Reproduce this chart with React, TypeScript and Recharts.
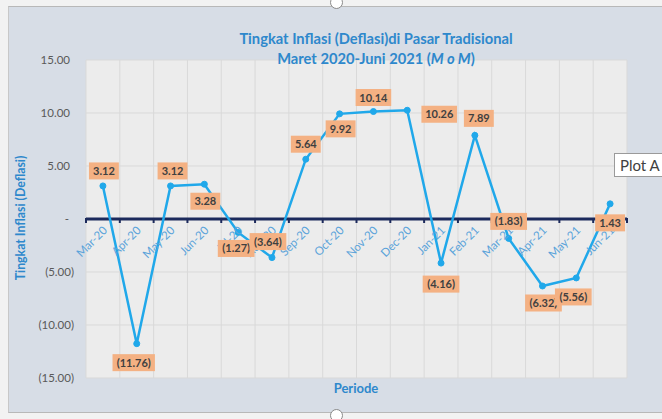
import { LineChart, Line, XAxis, YAxis, CartesianGrid, ReferenceLine, LabelList } from 'recharts'

const MONTHS = [
  'Mar-20', 'Apr-20', 'May-20', 'Jun-20', 'Jul-20', 'Aug-20', 'Sep-20', 'Oct-20',
  'Nov-20', 'Dec-20', 'Jan-21', 'Feb-21', 'Mar-21', 'Apr-21', 'May-21', 'Jun-21',
]
const INFLATION = [3.12, -11.76, 3.12, 3.28, -1.27, -3.64, 5.64, 9.92, 10.14, 10.26, -4.16, 7.89, -1.83, -6.32, -5.56, 1.43]
const Y_TICKS = [-15, -10, -5, 0, 5, 10, 15]

// where Excel put each data label, relative to its point (px)
const LABEL_NUDGE: [number, number][] = [
  [1, -15], [-3, 19], [2, -15], [1, 17], [-2, 16], [-4, -16], [0, -15], [1, 15],
  [0, -14], [32, 4], [0, 21], [4, -17], [0, -17], [1, 17], [-3, 19], [0, 19],
]

const W = 662
const H = 419
const MARGIN = { top: 60, right: 35, bottom: 41, left: 0 }
const Y_AXIS_W = 86
const PLOT_W = W - MARGIN.right - Y_AXIS_W
const BAND = PLOT_W / MONTHS.length

const FONT = 'Lato, "Open Sans", sans-serif'
const LINE_BLUE = '#20a8ea'
const TITLE_BLUE = '#2e88cc'
const LABEL_BLUE = '#5aa3da'
const NAVY = '#1c2a5c'

const data = MONTHS.map((month, i) => ({ month, value: INFLATION[i] }))

const fmt = (v: number) => (v < 0 ? `(${Math.abs(v).toFixed(2)})` : v.toFixed(2))

// rough Calibri-bold-ish widths to size the orange boxes
const textW = (s: string) =>
  s.split('').reduce((w, c) => w + (c === '.' ? 2.8 : c === '(' || c === ')' ? 3.4 : 5.7), 0)

function YTick(props: any) {
  const { x, y, payload } = props
  const v = payload.value as number
  const text = v === 0 ? '-' : fmt(v)
  const endX = v === 0 ? x - 17 : v < 0 ? x - 12 : x - 16
  return (
    <text x={endX} y={y} dy={4} textAnchor="end" fill="#595959" fontSize={11.5} fontFamily={FONT}>
      {text}
    </text>
  )
}

function AxisLabel(props: any) {
  const { x, y, value, index } = props
  const last = index === MONTHS.length - 1
  const tx = x + 5
  const ty = y + 12
  return (
    <g>
      <line x1={x - BAND / 2} x2={x - BAND / 2} y1={y - 1} y2={y + 4} stroke={NAVY} strokeWidth={2} />
      {last && <line x1={x + BAND / 2} x2={x + BAND / 2} y1={y - 1} y2={y + 4} stroke={NAVY} strokeWidth={2} />}
      <text
        x={tx}
        y={ty}
        textAnchor="end"
        fill={LABEL_BLUE}
        fontSize={11.5}
        fontFamily={FONT}
        transform={`rotate(-45 ${tx} ${ty})`}
      >
        {value}
      </text>
    </g>
  )
}

function DataLabel(props: any) {
  const { x, y, value, index } = props
  const [dx, dy] = LABEL_NUDGE[index] ?? [0, -15]
  const s = fmt(value as number)
  const bw = textW(s) + 10
  const cx = x + dx
  const cy = y + dy
  return (
    <g>
      <rect x={cx - bw / 2} y={cy - 8.5} width={bw} height={17} fill="#f4b183" />
      <text x={cx} y={cy} dy={4} textAnchor="middle" fill="#404040" fontSize={11} fontWeight="bold" fontFamily={FONT}>
        {s}
      </text>
    </g>
  )
}

export default function App() {
  return (
    <div style={{ position: 'absolute', left: 0, top: 0, width: W, height: H, overflow: 'hidden', background: '#f2f2f2', fontFamily: FONT }}>
      <div style={{ position: 'absolute', left: 8, top: 6, right: -2, height: 405, background: '#d7dde6', borderTop: '1px solid #b8b8b8', borderBottom: '1px solid #b8b8b8', borderLeft: '1px solid #c8c8c8' }} />
      <div style={{ position: 'absolute', left: 330, top: -4, width: 11, height: 11, borderRadius: '50%', background: '#fff', border: '1.5px solid #8a8a8a' }} />
      <div style={{ position: 'absolute', left: 330, top: 409, width: 11, height: 11, borderRadius: '50%', background: '#fff', border: '1.5px solid #8a8a8a' }} />

      <div style={{ position: 'absolute', left: 0, top: 0 }}>
        <LineChart width={W} height={H} data={data} margin={MARGIN}>
          <CartesianGrid
            fill="#ececec"
            stroke="#d9d9d9"
            verticalCoordinatesGenerator={({ offset }: any) =>
              [...MONTHS.map((_, i) => offset.left + (i * offset.width) / MONTHS.length), offset.left + offset.width]
            }
          />
          <XAxis dataKey="month" scale="band" hide />
          <YAxis
            width={Y_AXIS_W}
            domain={[-15, 15]}
            ticks={Y_TICKS}
            axisLine={false}
            tickLine={false}
            tickSize={0}
            tickMargin={0}
            tick={YTick}
            interval={0}
          />
          <ReferenceLine y={0} stroke={NAVY} strokeWidth={3} />
          <Line
            dataKey={() => 0}
            stroke="none"
            dot={false}
            activeDot={false}
            legendType="none"
            isAnimationActive={false}
          >
            <LabelList dataKey="month" content={AxisLabel} />
          </Line>
          <Line
            dataKey="value"
            type="linear"
            stroke={LINE_BLUE}
            strokeWidth={2.5}
            dot={{ r: 3, fill: LINE_BLUE, stroke: LINE_BLUE, strokeWidth: 1 }}
            activeDot={false}
            isAnimationActive={false}
          >
            <LabelList dataKey="value" content={DataLabel} />
          </Line>
        </LineChart>
      </div>

      <div style={{ position: 'absolute', left: 176, width: 400, top: 28, textAlign: 'center', color: TITLE_BLUE, fontWeight: 'bold', fontSize: 14.7, lineHeight: '20px' }}>
        Tingkat Inflasi (Deflasi)di Pasar Tradisional
        <br />
        Maret 2020-Juni 2021 (<span style={{ fontStyle: 'italic' }}>M o M</span>)
      </div>
      <div style={{ position: 'absolute', left: 256, width: 200, top: 380, textAlign: 'center', color: TITLE_BLUE, fontWeight: 'bold', fontSize: 13 }}>
        Periode
      </div>
      <div style={{ position: 'absolute', left: 21, top: 218, width: 0, height: 0 }}>
        <div style={{ position: 'absolute', left: -100, top: -8, width: 200, textAlign: 'center', transform: 'rotate(-90deg)', color: TITLE_BLUE, fontWeight: 'bold', fontSize: 12.3, lineHeight: '16px', whiteSpace: 'nowrap' }}>
          Tingkat Inflasi (Deflasi)
        </div>
      </div>
      <div style={{ position: 'absolute', left: 614, top: 153, width: 70, height: 22, background: '#fff', border: '1px solid #9a9a9a', color: '#404040', fontSize: 15, lineHeight: '22px', paddingLeft: 5, whiteSpace: 'nowrap' }}>
        Plot A
      </div>
    </div>
  )
}
